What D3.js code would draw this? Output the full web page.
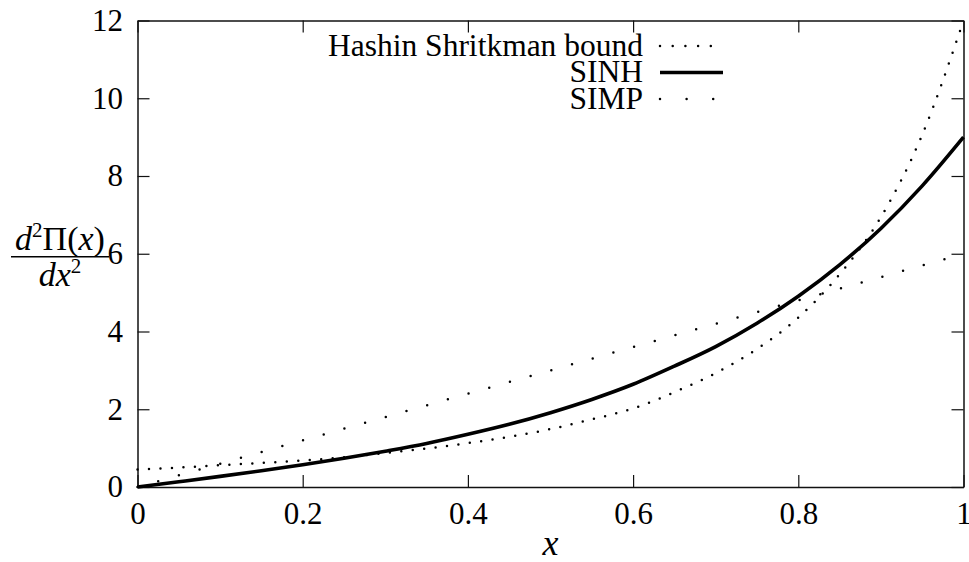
<!DOCTYPE html>
<html>
<head>
<meta charset="utf-8">
<script src="https://cdn.jsdelivr.net/npm/d3@7"></script>
<style>
  body { margin: 0; background: #fff; }
  svg { display: block; }
</style>
</head>
<body>
<div id="chart"></div>
<script>
// values
const xs = [0, 0.05, 0.1, 0.15, 0.2, 0.25, 0.3, 0.35, 0.4, 0.45, 0.5, 0.55, 0.6, 0.65, 0.7, 0.75, 0.8, 0.85, 0.9, 0.95, 1];
const hashinValues = [0.45, 0.5, 0.56, 0.62, 0.68, 0.765, 0.875, 0.99, 1.13, 1.29, 1.49, 1.74, 2.02, 2.44, 2.93, 3.55, 4.36, 5.47, 6.94, 9.06, 12];
const sinhValues = [0, 0.135, 0.273, 0.418, 0.572, 0.738, 0.922, 1.121, 1.356, 1.613, 1.912, 2.252, 2.642, 3.109, 3.612, 4.213, 4.909, 5.715, 6.651, 7.746, 9.0];
const simpXs = [0, 0.25, 0.5, 0.75, 1];
const simpValues = [0, 1.5, 3, 4.5, 6];
const xTicks = [0, 0.2, 0.4, 0.6, 0.8, 1];
const yTicks = [0, 2, 4, 6, 8, 10, 12];
const legendLabels = ['Hashin Shritkman bound', 'SINH', 'SIMP'];

const serif = '"Liberation Serif", "Times New Roman", Times, serif';
const width = 969;
const height = 562;
const margin = { top: 20.5, right: 5.5, bottom: 75, left: 137.5 };

const svg = d3.select('#chart')
  .append('svg')
  .attr('width', width)
  .attr('height', height);

const x = d3.scaleLinear()
  .domain([0, 1])
  .range([margin.left, width - margin.right]);

const y = d3.scaleLinear()
  .domain([0, 12])
  .range([height - margin.bottom, margin.top]);

const tickLen = 12;

// axes, ticks pointing inward, mirrored on top/right
svg.append('g')
  .attr('transform', `translate(0, ${y(0)})`)
  .call(d3.axisBottom(x).tickValues(xTicks).tickSize(-tickLen).tickSizeOuter(0).tickPadding(15)
    .tickFormat(d => d3.format('')(d)));

svg.append('g')
  .attr('transform', `translate(${x(0)}, 0)`)
  .call(d3.axisLeft(y).tickValues(yTicks).tickSize(-tickLen).tickSizeOuter(0).tickPadding(14.5));

svg.append('g')
  .attr('transform', `translate(0, ${y(12)})`)
  .call(d3.axisTop(x).tickValues(xTicks).tickSize(-tickLen).tickSizeOuter(0).tickFormat(''));

svg.append('g')
  .attr('transform', `translate(${x(1)}, 0)`)
  .call(d3.axisRight(y).tickValues(yTicks).tickSize(-tickLen).tickSizeOuter(0).tickFormat(''));

svg.selectAll('.domain').attr('stroke', '#111').attr('stroke-width', 1.5);
svg.selectAll('.tick line').attr('stroke', '#111').attr('stroke-width', 1.2);
svg.selectAll('.tick text')
  .attr('fill', '#000')
  .style('font-family', serif)
  .style('font-size', '31px');

// curves
const line = d3.line()
  .x(d => x(d[0]))
  .y(d => y(d[1]))
  .curve(d3.curveMonotoneX);

const plot = svg.append('g');

plot.append('path')
  .datum(simpXs.map((v, i) => [v, simpValues[i]]))
  .attr('d', line)
  .attr('fill', 'none')
  .attr('stroke', '#000')
  .attr('stroke-width', 2.5)
  .attr('stroke-linecap', 'round')
  .attr('stroke-dasharray', '0 21.5');

plot.append('path')
  .datum(xs.map((v, i) => [v, hashinValues[i]]))
  .attr('d', line)
  .attr('fill', 'none')
  .attr('stroke', '#000')
  .attr('stroke-width', 2.5)
  .attr('stroke-linecap', 'round')
  .attr('stroke-dasharray', '0 11.5');

plot.append('path')
  .datum(xs.map((v, i) => [v, sinhValues[i]]))
  .attr('d', line)
  .attr('fill', 'none')
  .attr('stroke', '#000')
  .attr('stroke-width', 3.6)
  .attr('stroke-linejoin', 'round');

// legend
const legend = svg.append('g').attr('class', 'legend');
const legendRows = [
  { dash: '0 12.7', width: 2.5, cap: 'round' },
  { dash: null, width: 3.6, cap: 'butt' },
  { dash: '0 26.6 0 26.6 0 9.8', width: 2.5, cap: 'round' }
];
legendLabels.forEach((label, i) => {
  const cy = 46 + i * 26.5;
  legend.append('text')
    .attr('x', 643)
    .attr('y', cy + 9.8)
    .attr('text-anchor', 'end')
    .style('font-family', serif)
    .style('font-size', '31.5px')
    .text(label);
  legend.append('line')
    .attr('x1', 660)
    .attr('x2', 723)
    .attr('y1', cy)
    .attr('y2', cy)
    .attr('stroke', '#000')
    .attr('stroke-width', legendRows[i].width)
    .attr('stroke-linecap', legendRows[i].cap)
    .attr('stroke-dasharray', legendRows[i].dash);
});

// y label: d²Π(x) / dx²
const num = svg.append('text')
  .attr('x', 60)
  .attr('y', 250)
  .attr('text-anchor', 'middle')
  .style('font-family', serif)
  .style('font-size', '34px');
num.append('tspan').style('font-style', 'italic').text('d');
num.append('tspan').attr('dy', -13).style('font-size', '21px').text('2');
num.append('tspan').attr('dy', 13).text('Π(');
num.append('tspan').style('font-style', 'italic').text('x');
num.append('tspan').text(')');

svg.append('line')
  .attr('x1', 11)
  .attr('x2', 109)
  .attr('y1', 256.8)
  .attr('y2', 256.8)
  .attr('stroke', '#000')
  .attr('stroke-width', 1.4);

const den = svg.append('text')
  .attr('x', 60)
  .attr('y', 286)
  .attr('text-anchor', 'middle')
  .style('font-family', serif)
  .style('font-size', '34px');
den.append('tspan').style('font-style', 'italic').text('dx');
den.append('tspan').attr('dy', -13).style('font-size', '21px').text('2');

// x label
svg.append('text')
  .attr('x', x(0.5))
  .attr('y', 555)
  .attr('text-anchor', 'middle')
  .style('font-family', serif)
  .style('font-size', '36px')
  .style('font-style', 'italic')
  .text('x');
</script>
</body>
</html>
